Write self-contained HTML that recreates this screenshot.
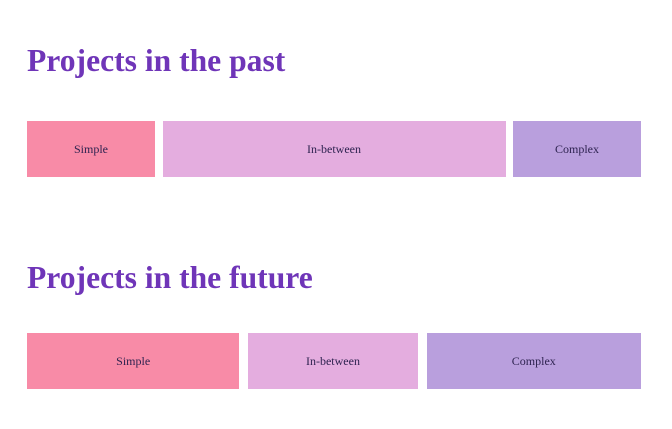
<!DOCTYPE html>
<html><head><meta charset="utf-8"><style>
body{margin:0;width:672px;height:429px;background:#fff;position:relative;overflow:hidden;font-family:"Liberation Serif",serif}
h2{position:absolute;left:27px;margin:0;font-size:31.6px;font-weight:bold;color:#6f35b8;line-height:1}
.bar{position:absolute;display:flex;align-items:center;justify-content:center;font-size:12px;color:#2e2350}
</style></head><body>
<h2 style="top:45px">Projects in the past</h2>
<h2 style="top:262px">Projects in the future</h2>
<div id="c"></div>
<script>
const categories=["Simple","In-between","Complex"];
const pastValues=[128,343,128];
const futureValues=[212,169,214];
const colors=["#f88ba7","#e4addf","#b99fdd"];
function row(vals,top,gap,name){
  const total=vals.reduce((a,b)=>a+b,0);
  const avail=614-gap*(vals.length-1);
  let x=27;
  vals.forEach((v,i)=>{
    const w=v/total*avail;
    const d=document.createElement('div');
    d.className='bar';
    
    
    d.style.cssText=`left:${x}px;top:${top}px;width:${w}px;height:56px;background:${colors[i]}`;
    d.textContent=categories[i];
    document.getElementById('c').appendChild(d);
    x+=w+gap;
  });
}
row(pastValues,121,7.5,'past-bar');
row(futureValues,333,9,'future-bar');
</script>
</body></html>
